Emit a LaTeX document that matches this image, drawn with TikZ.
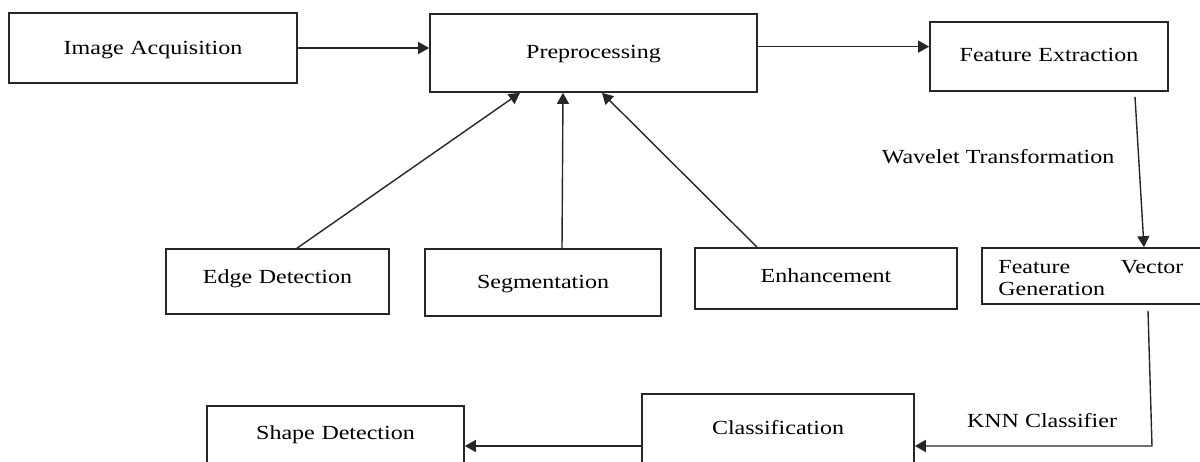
\documentclass[tikz,border=0pt]{standalone}
\usepackage{fontspec}
\setmainfont{Liberation Serif}[FakeStretch=1.2]
\usetikzlibrary{arrows.meta,calc}
\begin{document}
\begin{tikzpicture}[x=0.5pt,y=-0.5pt,
  box/.style={draw=black!85,line width=0.85pt,inner sep=0pt,anchor=base,align=center,font=\fontsize{10}{11}\selectfont},
  plainbox/.style={draw=black!85,line width=0.85pt,inner sep=0pt},
  lbl/.style={inner sep=0pt,anchor=base,font=\fontsize{10}{11}\selectfont},
  arr/.style={draw=black!85,line width=0.7pt,-{Triangle[length=5.5pt,width=6pt]}},
  ln/.style={line width=0.7pt}]
\useasboundingbox (0,0) rectangle (1200,461);
\clip (0,0) rectangle (1200,461);
% top row
\node[box,text width=144pt,text height=20.5pt,text depth=14.5pt] (ia) at (153,54) {Image Acquisition};
\node[box,text width=163.5pt,text height=22pt,text depth=17pt] (pre) at (593.5,58) {Preprocessing};
\node[box,text width=119pt,text height=19.5pt,text depth=15pt] (fe) at (1049,61) {Feature Extraction};
% middle row
\node[box,text width=111.5pt,text height=17pt,text depth=15.5pt] (edge) at (277.5,283) {Edge Detection};
\node[box,text width=118pt,text height=19.5pt,text depth=14pt] (seg) at (543,288) {Segmentation};
\node[box,text width=131pt,text height=17pt,text depth=13.5pt] (enh) at (826,282) {Enhancement};
\node[plainbox,minimum width=114pt,minimum height=28pt] (fvg) at (1096,276) {};
\node[lbl,anchor=base west,text width=92.5pt,align=left] (fvgt) at (998,273) {Feature\hfill Vector\\Generation};
% bottom row
\node[box,text width=136pt,text height=20pt,text depth=23pt] (cls) at (778,434) {Classification};
\node[box,text width=128.5pt,text height=16.5pt,text depth=20.5pt] (shp) at (335.5,439) {Shape Detection};
% labels
\node[lbl] (wav) at (998,163) {Wavelet Transformation};
\node[lbl] (knn) at (1042,427) {KNN Classifier};
% connectors
\draw[arr] (ia.east) -- (ia.east -| pre.west);
\coordinate (preout) at ($(pre.north east)!0.42!(pre.south east)$);
\draw[arr] (preout) -- (preout -| fe.west);
\draw[arr] ([shift={(86,5)}]fe.south) -- ([xshift=24pt]fvg.north);
\draw[arr] ([xshift=9.75pt]edge.north) -- ([xshift=-36.75pt]pre.south);
\draw[arr] ([xshift=9.5pt]seg.north) -- ([xshift=-15.25pt]pre.south);
\draw[arr] ([xshift=-34.5pt]enh.north) -- ([xshift=4.25pt]pre.south);
\coordinate (knee) at (1152,446);
\draw[arr] ([shift={(52,6)}]fvg.south) -- (knee) -- (knee -| cls.east);
\draw[arr] (knee -| cls.west) -- (knee -| shp.east);
\end{tikzpicture}
\end{document}
